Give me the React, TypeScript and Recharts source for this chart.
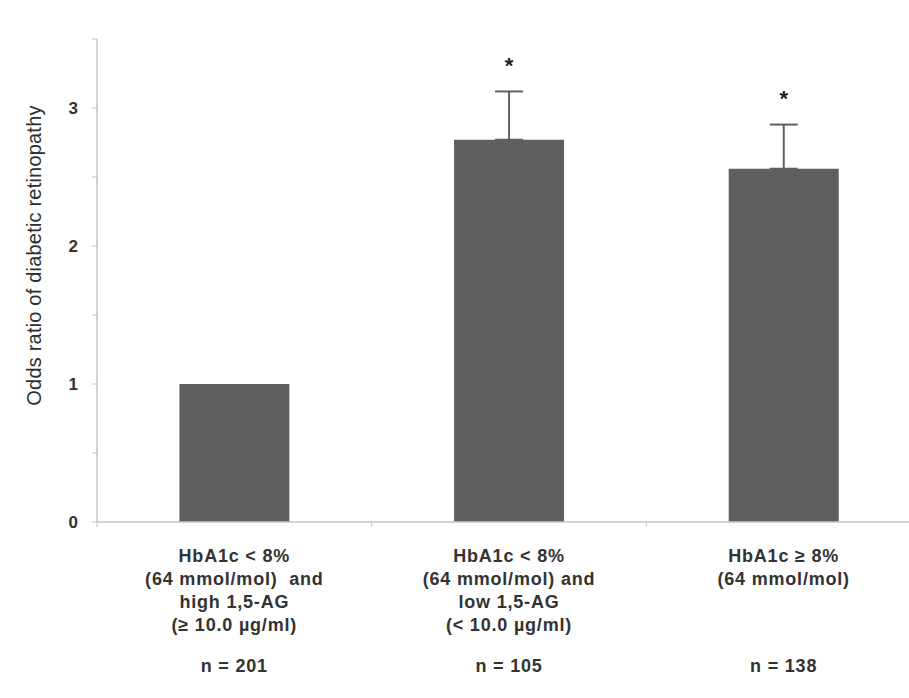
import React from "react";
import {
  ComposedChart,
  Bar,
  Line,
  XAxis,
  YAxis,
  ErrorBar,
} from "recharts";

const categories = ["A", "B", "C"];
const labelLines: string[][] = [
  ["HbA1c < 8%", "(64 mmol/mol)  and", "high 1,5-AG", "(≥ 10.0 µg/ml)"],
  ["HbA1c < 8%", "(64 mmol/mol) and", "low 1,5-AG", "(< 10.0 µg/ml)"],
  ["HbA1c ≥ 8%", "(64 mmol/mol)"],
];
const nLabels = ["n = 201", "n = 105", "n = 138"];
const oddsRatios = [1.0, 2.77, 2.56];
const upperErrors = [null, 0.35, 0.32];
const significant = [false, true, true];
const yTicks = [0, 0.5, 1, 1.5, 2, 2.5, 3, 3.5];

const data = categories.map((c, i) => ({
  cat: c,
  idx: i,
  or: oddsRatios[i],
  err: upperErrors[i] == null ? undefined : [0, upperErrors[i] as number],
  star: significant[i] ? oddsRatios[i] + (upperErrors[i] || 0) : null,
}));

const BAR = "#5f5f5f";
const AXIS = "#c4c4c4";
const TEXT = "#333333";
const FONT = "'Liberation Sans', Arial, sans-serif";

const GroupTick = (props: any) => {
  const { x, y, payload, index, width, visibleTicksCount } = props;
  const count = visibleTicksCount || categories.length;
  const half =
    payload && typeof payload.offset === "number" && payload.offset > 0
      ? payload.offset
      : (width || 0) / count / 2;
  const lines = labelLines[index] || [];
  return (
    <g>
      {index === 0 && (
        <line x1={x - half} y1={y} x2={x - half} y2={y + 5} stroke={AXIS} strokeWidth={1} />
      )}
      <line x1={x + half} y1={y} x2={x + half} y2={y + 5} stroke={AXIS} strokeWidth={1} />
      <text
        x={x}
        y={y}
        textAnchor="middle"
        fontFamily={FONT}
        fontWeight="bold"
        fontSize={18}
        letterSpacing={0.8}
        fill={TEXT}
        style={{ whiteSpace: "pre" }}
      >
        {lines.map((l, i) => (
          <tspan key={i} x={x} y={y + 39.5 + i * 23}>
            {l}
          </tspan>
        ))}
        <tspan x={x} y={y + 149.5}>
          {nLabels[index]}
        </tspan>
      </text>
    </g>
  );
};

const StarDot = (props: any) => {
  const { cx, cy, value } = props;
  if (value == null || cy == null || isNaN(cy)) return <g />;
  return (
    <text
      x={cx}
      y={cy - 18.5}
      textAnchor="middle"
      fontFamily={FONT}
      fontWeight="bold"
      fontSize={22}
      fill="#222"
    >
      *
    </text>
  );
};

const YLabel = (props: any) => {
  const vb = props.viewBox || {};
  const x = (vb.x || 0) + 34;
  const y = (vb.y || 0) + (vb.height || 0) / 2 - 25;
  return (
    <text
      x={x}
      y={y}
      transform={`rotate(-90, ${x}, ${y})`}
      textAnchor="middle"
      dominantBaseline="central"
      fontFamily={FONT}
      fontSize={20}
      letterSpacing={0.2}
      fill="#2e2e2e"
    >
      Odds ratio of diabetic retinopathy
    </text>
  );
};

export default function App() {
  return (
    <div
      style={{
        position: "absolute",
        left: 0,
        top: 0,
        width: 909,
        height: 698,
        overflow: "hidden",
        background: "#fff",
      }}
    >
      <ComposedChart
        width={925}
        height={698}
        data={data}
        margin={{ top: 39, right: 4, bottom: 0, left: 0 }}
        barCategoryGap="30%"
      >
        <XAxis
          dataKey="cat"
          height={176}
          interval={0}
          tickLine={false}
          tickSize={0}
          tickMargin={0}
          axisLine={{ stroke: AXIS, strokeWidth: 1.5 }}
          tick={<GroupTick />}
        />
        <YAxis
          domain={[0, 3.5]}
          ticks={yTicks}
          interval={0}
          width={97}
          tickSize={5}
          tickMargin={14}
          axisLine={{ stroke: AXIS, strokeWidth: 1.5 }}
          tickLine={{ stroke: AXIS }}
          tickFormatter={(v: number) => (Number.isInteger(v) ? String(v) : "")}
          tick={{ fontFamily: FONT, fontWeight: "bold", fontSize: 17, fill: TEXT }}
          label={{ content: <YLabel /> }}
        />
        <Bar dataKey="or" fill={BAR} isAnimationActive={false}>
          <ErrorBar
            dataKey="err"
            direction="y"
            width={14}
            strokeWidth={2}
            stroke={BAR}
            isAnimationActive={false}
          />
        </Bar>
        <Line
          dataKey="star"
          stroke="none"
          dot={<StarDot />}
          activeDot={false}
          isAnimationActive={false}
          connectNulls={false}
        />
      </ComposedChart>
    </div>
  );
}
